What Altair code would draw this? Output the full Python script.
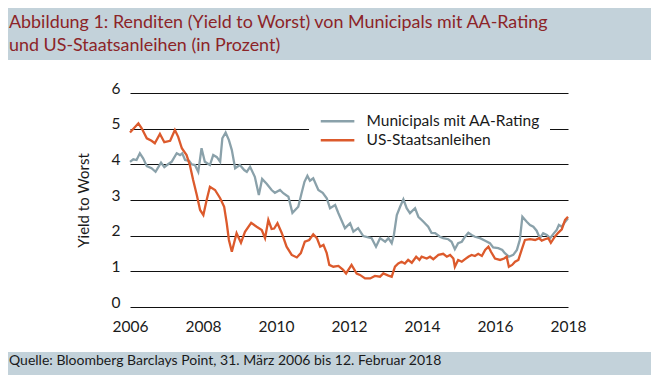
import altair as alt
import pandas as pd

# ---------------- data ----------------
series_names = ["Municipals mit AA-Rating", "US-Staatsanleihen"]
series_colors = ["#8aa1aa", "#dc5a2c"]

muni_years = [
    2006.00, 2006.09, 2006.18, 2006.27, 2006.36, 2006.46, 2006.59, 2006.70, 2006.85, 2006.94,
    2007.05, 2007.14, 2007.28, 2007.37, 2007.43, 2007.51, 2007.62, 2007.69, 2007.78, 2007.87,
    2007.96, 2008.05, 2008.19, 2008.28, 2008.38, 2008.47, 2008.53, 2008.62, 2008.71, 2008.79,
    2008.88, 2009.01, 2009.13, 2009.20, 2009.29, 2009.42, 2009.53, 2009.62, 2009.75, 2009.88,
    2009.97, 2010.11, 2010.20, 2010.34, 2010.45, 2010.61, 2010.70, 2010.78, 2010.86, 2010.93,
    2011.02, 2011.16, 2011.28, 2011.39, 2011.48, 2011.62, 2011.71, 2011.89, 2012.03, 2012.12,
    2012.25, 2012.39, 2012.53, 2012.62, 2012.74, 2012.85, 2012.99, 2013.08, 2013.17, 2013.23,
    2013.31, 2013.40, 2013.49, 2013.58, 2013.67, 2013.81, 2013.90, 2014.04, 2014.17, 2014.26,
    2014.36, 2014.49, 2014.58, 2014.72, 2014.81, 2014.90, 2014.99, 2015.09, 2015.18, 2015.27,
    2015.36, 2015.45, 2015.59, 2015.73, 2015.86, 2015.95, 2016.09, 2016.20, 2016.27, 2016.38,
    2016.50, 2016.60, 2016.68, 2016.75, 2016.87, 2016.96, 2017.05, 2017.14, 2017.23, 2017.32,
    2017.42, 2017.51, 2017.60, 2017.69, 2017.75, 2017.83, 2017.90, 2018.00,
]
muni_values = [
    4.07, 4.14, 4.12, 4.31, 4.17, 3.95, 3.89, 3.79, 4.05, 3.92,
    4.01, 4.07, 4.31, 4.26, 4.31, 4.12, 4.10, 4.00, 3.98, 3.79,
    4.45, 4.07, 3.98, 4.26, 4.20, 4.07, 4.73, 4.89, 4.68, 4.40,
    3.89, 3.98, 3.84, 3.79, 3.93, 3.65, 3.14, 3.59, 3.45, 3.28,
    3.20, 3.28, 3.19, 3.09, 2.64, 2.81, 3.19, 3.51, 3.68, 3.54,
    3.61, 3.28, 3.20, 3.05, 2.77, 2.86, 2.63, 2.21, 2.35, 2.11,
    2.21, 1.99, 1.95, 1.93, 1.69, 1.93, 1.83, 1.93, 1.79, 2.02,
    2.58, 2.81, 3.02, 2.77, 2.63, 2.77, 2.53, 2.39, 2.25, 2.08,
    2.07, 1.97, 1.93, 1.90, 1.83, 1.62, 1.79, 1.83, 1.97, 2.08,
    2.02, 1.97, 1.93, 1.86, 1.79, 1.67, 1.65, 1.60, 1.51, 1.41,
    1.46, 1.60, 1.88, 2.53, 2.39, 2.30, 2.25, 2.14, 1.93, 2.07,
    2.02, 1.93, 2.05, 2.16, 2.30, 2.25, 2.36, 2.49,
]

ust_years = [
    2006.00, 2006.23, 2006.32, 2006.46, 2006.59, 2006.68, 2006.82, 2006.94, 2007.10, 2007.23,
    2007.32, 2007.42, 2007.55, 2007.64, 2007.73, 2007.83, 2007.92, 2008.01, 2008.10, 2008.19,
    2008.33, 2008.47, 2008.58, 2008.65, 2008.71, 2008.79, 2008.92, 2009.04, 2009.15, 2009.32,
    2009.47, 2009.61, 2009.70, 2009.79, 2009.88, 2009.95, 2010.04, 2010.16, 2010.29, 2010.43,
    2010.57, 2010.68, 2010.79, 2010.91, 2011.02, 2011.12, 2011.21, 2011.30, 2011.39, 2011.46,
    2011.57, 2011.71, 2011.84, 2011.92, 2012.07, 2012.21, 2012.30, 2012.44, 2012.58, 2012.71,
    2012.85, 2012.94, 2013.08, 2013.17, 2013.26, 2013.35, 2013.44, 2013.53, 2013.62, 2013.72,
    2013.84, 2013.93, 2013.99, 2014.13, 2014.22, 2014.31, 2014.45, 2014.58, 2014.68, 2014.77,
    2014.86, 2014.90, 2014.99, 2015.09, 2015.18, 2015.27, 2015.36, 2015.45, 2015.54, 2015.64,
    2015.73, 2015.82, 2015.89, 2016.00, 2016.14, 2016.25, 2016.32, 2016.38, 2016.47, 2016.55,
    2016.64, 2016.73, 2016.82, 2016.96, 2017.10, 2017.21, 2017.28, 2017.37, 2017.46, 2017.53,
    2017.64, 2017.73, 2017.83, 2017.92, 2018.00,
]
ust_values = [
    4.89, 5.15, 5.01, 4.73, 4.66, 4.59, 4.85, 4.62, 4.66, 4.96,
    4.77, 4.45, 4.26, 3.98, 3.56, 3.14, 2.72, 2.58, 3.00, 3.37,
    3.28, 3.05, 2.81, 2.35, 1.88, 1.55, 2.07, 1.80, 2.11, 2.36,
    2.25, 2.16, 1.93, 2.44, 2.19, 2.20, 2.35, 2.07, 1.69, 1.46,
    1.39, 1.51, 1.83, 1.88, 2.04, 1.93, 1.69, 1.74, 1.51, 1.18,
    1.13, 1.15, 1.04, 0.94, 1.18, 0.94, 0.90, 0.80, 0.80, 0.87,
    0.85, 0.94, 0.88, 0.85, 1.13, 1.22, 1.27, 1.22, 1.32, 1.24,
    1.41, 1.32, 1.41, 1.36, 1.41, 1.34, 1.46, 1.49, 1.41, 1.46,
    1.36, 1.13, 1.32, 1.27, 1.34, 1.41, 1.46, 1.43, 1.49, 1.43,
    1.60, 1.69, 1.55, 1.36, 1.32, 1.36, 1.41, 1.13, 1.18, 1.27,
    1.32, 1.60, 1.88, 1.90, 1.88, 1.93, 1.86, 1.90, 1.93, 1.80,
    1.97, 2.08, 2.18, 2.44, 2.53,
]

x_ticks = [2006, 2008, 2010, 2012, 2014, 2016, 2018]
y_ticks = [0, 1, 2, 3, 4, 5, 6]
y_title = "Yield to Worst"
title_lines = [
    "Abbildung 1: Renditen (Yield to Worst) von Municipals mit AA-Rating",
    "und US-Staatsanleihen (in Prozent)",
]
source_text = "Quelle: Bloomberg Barclays Point, 31. März 2006 bis 12. Februar 2018"

# ---------------- styling ----------------
FONT = "Lato"
BAND = "#c3d2da"
TITLE_COLOR = "#8c2428"
W, H = 438, 214
PAD = {"left": 122, "top": 85, "right": 83, "bottom": 68}

df = pd.concat([
    pd.DataFrame({"Jahr": muni_years, "Rendite": muni_values, "Serie": series_names[0]}),
    pd.DataFrame({"Jahr": ust_years, "Rendite": ust_values, "Serie": series_names[1]}),
], ignore_index=True)

one = pd.DataFrame({"k": [0]})

# decorative blue bands (title / source strips) outside the plot area
top_band = alt.Chart(one).mark_rect(color=BAND).encode(
    x=alt.value(-PAD["left"]), x2=alt.value(W + PAD["right"]),
    y=alt.value(-PAD["top"] - 10), y2=alt.value(-33),
)
bottom_band = alt.Chart(one).mark_rect(color=BAND).encode(
    x=alt.value(-PAD["left"]), x2=alt.value(W + PAD["right"]),
    y=alt.value(259), y2=alt.value(H + PAD["bottom"] + 10),
)

title1 = alt.Chart(one).mark_text(
    align="left", baseline="alphabetic", font=FONT, fontSize=17.9, color=TITLE_COLOR
).encode(x=alt.value(-PAD["left"] + 1), y=alt.value(-65), text=alt.value(title_lines[0]))
title2 = alt.Chart(one).mark_text(
    align="left", baseline="alphabetic", font=FONT, fontSize=17.9, color=TITLE_COLOR
).encode(x=alt.value(-PAD["left"] + 1), y=alt.value(-42), text=alt.value(title_lines[1]))
source = alt.Chart(one).mark_text(
    align="left", baseline="alphabetic", font=FONT, fontSize=14, color="#1a1a1a"
).encode(x=alt.value(-PAD["left"] + 1), y=alt.value(272), text=alt.value(source_text))

lines = alt.Chart(df).mark_line(strokeWidth=2.3, clip=False).encode(
    x=alt.X("Jahr:Q",
            scale=alt.Scale(domain=[2006, 2018], nice=False, zero=False),
            axis=alt.Axis(values=x_ticks, format="d", title=None, grid=False,
                          domain=False, ticks=False, labelPadding=12,
                          labelFontSize=15.5, labelFont=FONT, labelColor="#1a1a1a",
                          labelFlush=False)),
    y=alt.Y("Rendite:Q",
            scale=alt.Scale(domain=[0, 6], nice=False, zero=True),
            axis=alt.Axis(values=y_ticks, title=y_title, grid=True, gridColor="#111111",
                          gridWidth=1, gridOpacity=1, domain=False, ticks=False,
                          labelPadding=10, labelFontSize=15.5, labelFont=FONT,
                          labelColor="#1a1a1a", labelBaseline="alphabetic",
                          titleFont=FONT, titleFontSize=15, titleFontWeight="normal",
                          titleColor="#1a1a1a", titleAngle=-90, titleX=-47, titleY=107,
                          titleAlign="center", titleBaseline="middle")),
    color=alt.Color("Serie:N",
                    scale=alt.Scale(domain=series_names, range=series_colors),
                    legend=alt.Legend(orient="none", legendX=179, legendY=10.5,
                                      title=None, fillColor="white", padding=10,
                                      symbolType="M-1,0H4.6", symbolSize=144,
                                      symbolStrokeWidth=2.5, labelOffset=32,
                                      labelFontSize=15.5, labelFont=FONT, labelLimit=400,
                                      labelColor="#1a1a1a", rowPadding=2)),
)

chart = alt.layer(top_band, bottom_band, title1, title2, source, lines).properties(
    width=W, height=H,
    padding=PAD,
    autosize=alt.AutoSizeParams(type="none"),
    background="white",
).configure_view(stroke=None)

chart.save("out.html", embed_options={"renderer": "svg", "actions": False})
